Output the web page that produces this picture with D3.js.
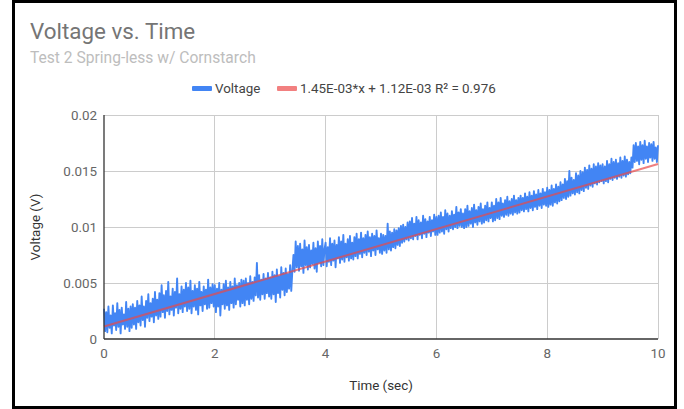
<!DOCTYPE html>
<html><head><meta charset="utf-8">
<script src="https://cdn.jsdelivr.net/npm/d3@7"></script>
<style>body{margin:0;background:#fff}svg{display:block;font-family:Roboto,Arial,sans-serif}</style>
</head><body><div id="chart"></div>
<script>
const titleText = "Voltage vs. Time";
const subtitleText = "Test 2 Spring-less w/ Cornstarch";
const xTicks = [0, 2, 4, 6, 8, 10];
const yTicks = [0, 0.005, 0.01, 0.015, 0.02];
const yTickLabels = ["0", "0.005", "0.01", "0.015", "0.02"];
const seriesName = "Voltage";
const trendLabel = "1.45E-03*x + 1.12E-03 R² = 0.976";
const trendSlope = 1.45e-3;
const trendIntercept = 1.12e-3;
const timeStart = 0, timeStep = 0.02;
const voltage_mV = [
2.7,0.7,2.4,0.6,2.9,1.0,2.1,0.5,3.0,1.2,2.3,0.8,3.2,1.1,2.6,0.5,2.8,1.3,2.2,0.9,3.3,1.1,2.7,0.7,2.9,
1.0,3.1,1.3,2.8,0.9,3.4,1.5,3.0,1.2,3.8,1.7,2.9,1.1,3.4,1.9,4.0,1.6,3.2,2.0,3.6,1.5,4.2,2.1,3.5,1.8,
4.1,2.0,4.8,2.4,3.9,1.9,4.3,2.5,5.1,2.2,3.8,2.6,4.5,2.1,4.2,2.8,5.4,2.3,4.0,2.7,4.7,2.4,4.4,2.9,5.0,
2.5,4.6,2.7,5.2,2.3,4.3,2.9,4.8,2.6,4.5,2.2,5.1,3.0,4.2,2.5,4.7,3.1,4.4,2.7,5.3,2.8,4.6,3.2,4.9,2.9,
4.8,2.4,4.5,2.9,5.0,2.1,4.4,3.1,4.9,2.7,5.2,3.0,4.6,2.6,5.1,3.2,4.7,2.8,5.4,3.1,4.8,3.5,5.0,2.9,5.3,
3.2,5.2,3.0,5.4,3.5,5.0,3.1,5.6,3.6,5.1,3.4,5.5,3.9,6.8,3.7,5.7,3.5,5.3,4.0,5.8,3.6,5.4,4.1,5.9,3.8,
5.5,3.6,6.0,4.0,5.7,3.3,6.2,4.1,5.6,3.7,6.4,4.4,5.9,3.9,6.3,4.2,5.8,4.5,6.6,4.3,6.1,7.5,6.0,8.7,6.4,
8.3,6.1,8.5,6.5,8.0,5.9,8.8,6.6,8.2,6.2,8.4,6.4,7.9,6.7,8.6,6.3,8.1,6.0,8.7,6.8,8.3,6.5,8.9,6.6,8.0,
8.6,6.5,8.2,6.9,9.0,6.6,8.5,7.0,8.8,6.4,8.4,7.2,9.1,6.8,8.7,7.1,9.3,6.9,8.5,7.3,8.9,7.0,9.2,7.2,8.6,
7.1,9.1,7.4,9.4,7.2,8.9,7.6,9.5,7.3,9.0,7.7,9.3,7.5,9.6,7.8,9.1,7.4,9.4,7.9,9.2,7.5,9.7,8.0,9.0,7.7,
9.4,7.6,9.3,7.9,9.2,7.7,10.3,8.0,9.6,7.9,9.5,8.2,9.8,8.1,9.7,8.4,9.9,8.3,10.1,8.6,10.2,8.7,10.0,8.9,10.4,
8.8,10.5,9.0,10.8,8.9,10.3,9.2,10.9,8.9,10.6,9.3,10.4,9.0,11.0,9.4,10.7,9.1,10.5,9.5,10.9,9.2,10.6,9.6,11.1,9.3,
10.9,9.3,11.0,9.5,11.3,9.6,10.9,9.4,11.5,9.8,11.2,9.6,11.0,9.9,11.4,9.8,11.1,10.0,11.8,9.9,11.3,10.1,11.6,10.0,11.2,
9.9,11.6,10.0,11.9,10.1,11.4,10.3,11.7,10.0,12.0,10.4,11.5,10.2,11.8,10.5,12.1,10.3,11.6,10.4,11.9,10.6,12.2,10.5,11.7,10.8,
12.2,10.5,11.9,10.6,12.5,10.8,12.2,10.7,12.6,11.0,12.1,10.9,12.4,11.1,12.7,11.0,12.3,11.2,12.5,11.1,12.8,11.3,12.4,11.2,12.6,
11.3,12.8,11.5,12.6,11.4,13.0,11.6,12.7,11.4,13.1,11.7,12.8,11.5,13.2,11.8,12.9,11.6,13.3,11.9,13.0,11.7,13.4,12.0,13.1,11.9,
13.5,11.8,13.3,12.0,13.7,11.9,13.4,12.2,13.8,12.1,13.6,12.3,14.0,12.4,13.8,12.6,14.3,12.5,14.1,12.7,15.0,12.8,14.4,13.0,14.2,
12.9,14.8,13.1,14.6,13.0,15.0,13.3,14.9,13.2,15.3,13.5,15.1,13.4,15.5,13.7,15.2,13.6,15.6,13.9,15.4,13.8,15.7,14.0,15.5,14.1,
15.6,13.9,15.4,14.1,15.9,14.0,15.6,14.3,16.1,14.2,15.8,14.4,16.0,14.3,15.7,14.5,16.2,14.4,15.9,14.6,16.3,14.5,16.0,14.7,15.8,
14.8,16.2,15.3,17.3,15.8,17.5,15.9,17.2,15.6,17.6,16.0,17.3,15.7,17.7,16.1,17.2,15.8,17.5,16.2,17.4,15.9,17.6,16.1,17.1,15.8,17.3
];

const W = 684, H = 409;
const m = {left: 104, right: 26, top: 115, bottom: 70};
const svg = d3.select("#chart").append("svg").attr("width", W).attr("height", H);
svg.append("rect").attr("width", W).attr("height", H).attr("fill", "#fff");

const x = d3.scaleLinear().domain([0, 10]).range([m.left, W - m.right]);
const y = d3.scaleLinear().domain([0, 0.02]).range([H - m.bottom, m.top]);

// grid
svg.append("g").selectAll("line").data(yTicks.slice(1)).join("line")
  .attr("x1", x(0)).attr("x2", x(10)).attr("y1", d => y(d)).attr("y2", d => y(d))
  .attr("stroke", "#cccccc").attr("stroke-width", 1).attr("shape-rendering", "crispEdges");
svg.append("g").selectAll("line").data(xTicks.slice(1)).join("line")
  .attr("x1", d => x(d)).attr("x2", d => x(d)).attr("y1", y(0)).attr("y2", y(0.02))
  .attr("stroke", "#cccccc").attr("stroke-width", 1).attr("shape-rendering", "crispEdges");

// series
const data = voltage_mV.map((v, i) => ({t: timeStart + i * timeStep, v: v / 1000}));
svg.append("path").datum(data)
  .attr("d", d3.line().x(d => x(d.t)).y(d => y(d.v)))
  .attr("fill", "none").attr("stroke", "#4285f4").attr("stroke-width", 1.9).attr("stroke-linejoin", "round");

// trendline
svg.append("path").datum([0, 10])
  .attr("d", d3.line().x(d => x(d)).y(d => y(trendSlope * d + trendIntercept)))
  .attr("fill", "none").attr("stroke", "#e84848").attr("stroke-opacity", 0.7).attr("stroke-width", 2);

// axis lines
svg.append("line").attr("x1", x(0)).attr("x2", x(10)).attr("y1", y(0)).attr("y2", y(0))
  .attr("stroke", "#333").attr("stroke-width", 1.3);
svg.append("line").attr("x1", x(0)).attr("x2", x(0)).attr("y1", y(0)).attr("y2", y(0.02))
  .attr("stroke", "#333").attr("stroke-width", 1.3);

// tick labels
svg.append("g").selectAll("text").data(yTicks).join("text")
  .attr("x", x(0) - 7).attr("y", d => y(d) + 4.5).attr("text-anchor", "end")
  .attr("font-size", 13.4).attr("fill", "#666").text((d, i) => yTickLabels[i]);
svg.append("g").selectAll("text").data(xTicks).join("text")
  .attr("x", d => x(d)).attr("y", y(0) + 19).attr("text-anchor", "middle")
  .attr("font-size", 13.4).attr("fill", "#666").text(d => d);

// axis titles
svg.append("text").attr("x", (x(0) + x(10)) / 2).attr("y", 389.5).attr("text-anchor", "middle")
  .attr("font-size", 13.4).attr("fill", "#333").text("Time (sec)");
svg.append("text").attr("transform", `translate(40,${(y(0) + y(0.02)) / 2}) rotate(-90)`)
  .attr("text-anchor", "middle").attr("font-size", 13.4).attr("fill", "#333").text("Voltage (V)");

// title
svg.append("text").attr("x", 30).attr("y", 38.5).attr("font-size", 22.4).attr("fill", "#757575").text(titleText);
svg.append("text").attr("x", 30).attr("y", 62.5).attr("font-size", 15.6).attr("fill", "#bdbdbd").text(subtitleText);

// legend
const lg = svg.append("g");
lg.append("rect").attr("x", 192).attr("y", 86).attr("width", 20).attr("height", 5).attr("rx", 1).attr("fill", "#4285f4");
lg.append("text").attr("x", 215).attr("y", 92.5).attr("font-size", 13.4).attr("fill", "#444").text(seriesName);
lg.append("rect").attr("x", 277).attr("y", 86).attr("width", 20).attr("height", 5).attr("rx", 1).attr("fill", "#f28080");
lg.append("text").attr("x", 300).attr("y", 92.5).attr("font-size", 13.4).attr("fill", "#444").text(trendLabel);

// outer frame
svg.append("rect").attr("x", 13.5).attr("y", 1.5).attr("width", 662).attr("height", 406)
  .attr("fill", "none").attr("stroke", "#000").attr("stroke-width", 3);
</script></body></html>
